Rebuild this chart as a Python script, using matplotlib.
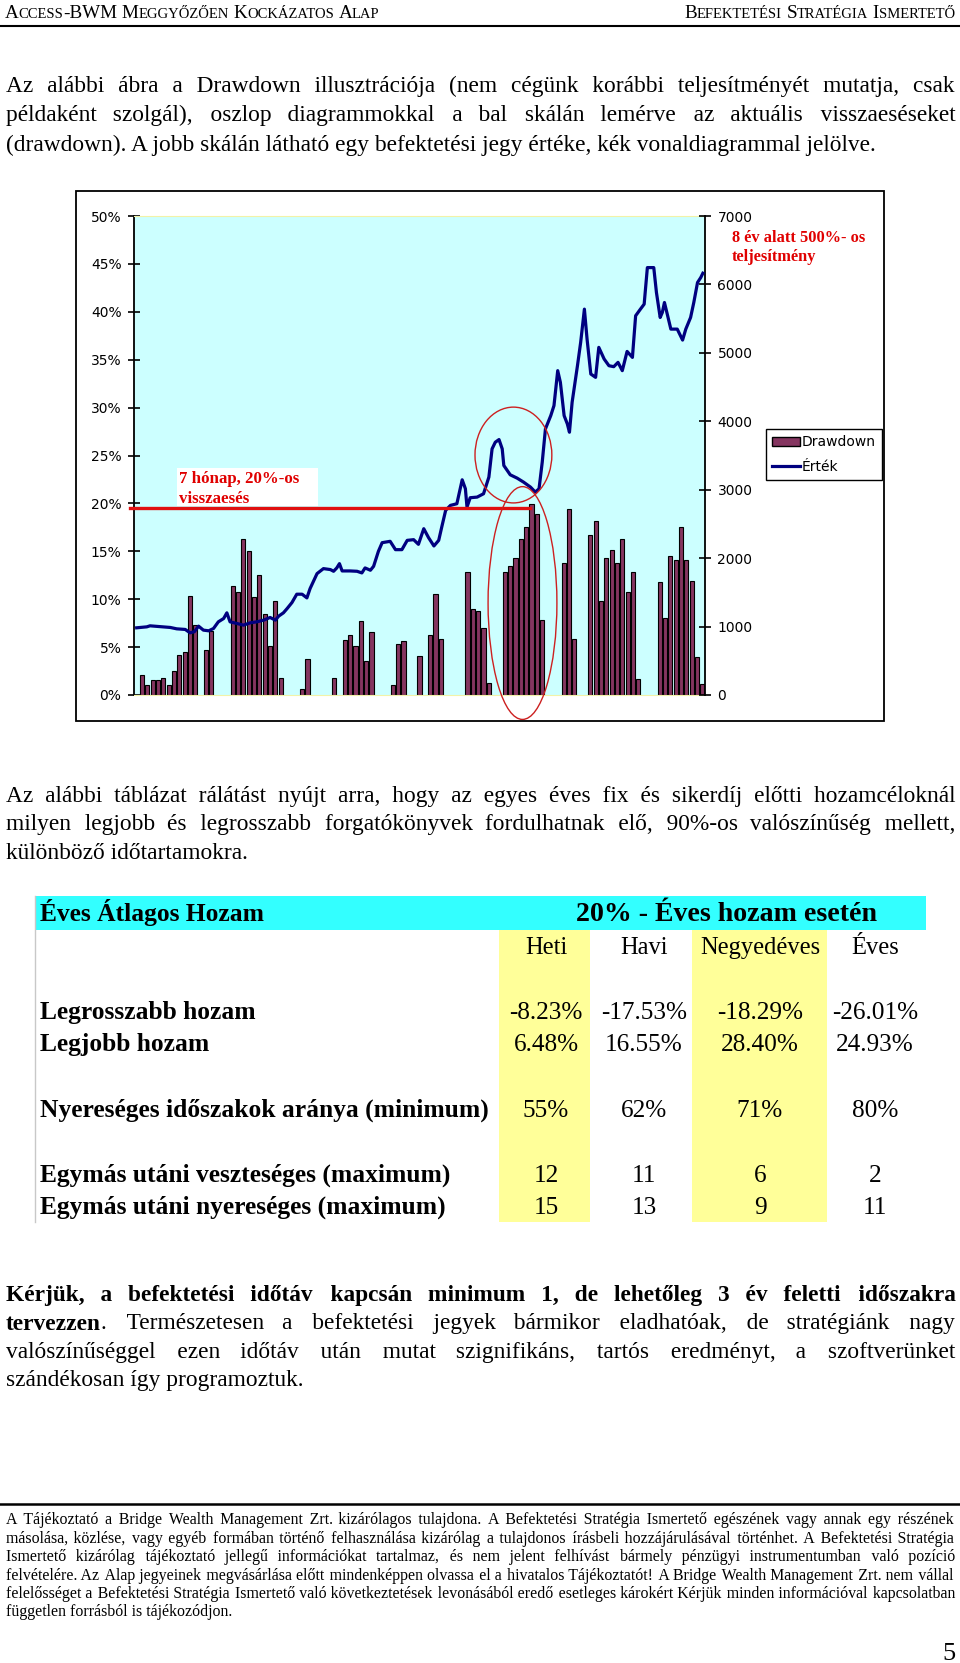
import matplotlib
matplotlib.use("Agg")
import matplotlib.pyplot as plt
import numpy as np
from itertools import groupby
from matplotlib.font_manager import FontProperties, findfont
from matplotlib.ft2font import FT2Font
from matplotlib.patches import Rectangle, Ellipse
from matplotlib.lines import Line2D

# ---------------- data ----------------
# monthly drawdown (%) per period, 0 = no drawdown
drawdown = [0, 2.05, 1.04, 1.6, 1.6, 1.8, 1.0, 2.5, 4.2, 4.5, 10.3, 7.3, 0, 4.7, 6.7,
            0, 0, 0, 11.4, 10.7, 16.3, 15.0, 10.2, 12.5, 8.45, 5.15, 9.8, 1.8,
            0, 0, 0, 0.6, 3.8, 0, 0, 0, 0, 1.8, 0, 5.7, 6.26, 5.1, 7.7, 3.55, 6.6,
            0, 0, 0, 1.04, 5.3, 5.6, 0, 0, 4.07, 0, 6.26, 10.5, 5.8,
            0, 0, 0, 0, 12.8, 9.0, 8.77, 7.0, 1.3, 0, 0,
            12.8, 13.5, 14.3, 16.3, 17.5, 19.9, 18.9, 7.8, 0, 0, 0,
            13.8, 19.4, 5.8, 0, 0, 16.7, 18.2, 9.8, 14.3, 15.1, 13.8, 16.3, 10.8, 12.8, 1.7,
            0, 0, 0, 11.8, 8.0, 14.5, 14.1, 17.5, 14.1, 11.9, 4.0, 1.2]

# unit value (right axis), sampled at period positions
line_t = [0, 1.9, 2.5, 6.3, 7.5, 9.1, 10.0, 10.8, 11.6, 12.5,
          13.5, 14.4, 15.3, 16.3, 16.9, 17.5, 18.8, 20.0, 21.3, 22.5,
          23.8, 25.0, 26.0, 26.6, 27.5, 28.2, 29.1, 30.0, 31.0, 31.9,
          32.5, 33.8, 35.0, 36.3, 36.9, 37.5, 38.0, 38.5, 40.0, 41.3,
          42.2, 42.8, 43.8, 44.4, 45.3, 46.0, 47.5, 48.5, 49.7, 50.7,
          51.9, 52.8, 53.8, 54.7, 55.7, 56.6, 57.2, 57.9, 58.8, 60.0,
          61.0, 61.6, 61.9, 62.5, 63.8, 65.0, 66.0, 66.6, 67.2, 67.9,
          68.5, 68.8, 70.0, 71.3, 72.5, 73.8, 74.7, 75.4, 76.0, 76.6,
          77.6, 78.2, 78.9, 79.4, 80.1, 80.7, 81.1, 81.6, 82.6, 83.2,
          83.9, 84.4, 85.1, 86.0, 86.6, 87.6, 88.5, 89.4, 90.2, 91.0,
          91.9, 92.9, 93.5, 94.4, 95.1, 95.7, 96.9, 97.4, 98.1, 98.5,
          98.9, 99.5, 100.1, 101.3, 102.3, 102.9, 103.8, 104.4, 105.1, 105.7,
          106.1]
line_v = [982, 996, 1011, 987, 967, 958, 909, 924, 1006, 948,
          938, 972, 1069, 1118, 1201, 1069, 1045, 1021, 1055, 1069,
          1094, 1133, 1094, 1152, 1201, 1264, 1351, 1473, 1473, 1419,
          1556, 1774, 1847, 1833, 1808, 1857, 1920, 1813, 1813, 1808,
          1784, 1857, 1823, 1881, 2100, 2226, 2246, 2124, 2124, 2260,
          2270, 2202, 2430, 2299, 2178, 2260, 2465, 2698, 2771, 2795,
          3145, 3014, 2746, 2883, 2892, 2941, 3184, 3597, 3694, 3733,
          3597, 3354, 3218, 3169, 3111, 3038, 2965, 3014, 3403, 3889,
          4083, 4229, 4740, 4569, 4083, 3962, 3840, 4278, 4812, 5153,
          5639, 5201, 4691, 4642, 5080, 4910, 4812, 4798, 4861, 4740,
          5021, 4934, 5542, 5639, 5712, 6246, 6246, 5882, 5517, 5590,
          5736, 5542, 5347, 5347, 5187, 5347, 5517, 5736, 6028, 6100,
          6164]

left_ticks = [0, 5, 10, 15, 20, 25, 30, 35, 40, 45, 50]
right_ticks = [0, 1000, 2000, 3000, 4000, 5000, 6000, 7000]
legend_labels = ["Drawdown", "Érték"]
drawdown_level = 19.5       # highlighted 20% drawdown level
drawdown_level_span = (-1.25, 73.8)

table_title = "Éves Átlagos Hozam"
table_subtitle = "20% - Éves hozam esetén"
table_cols = ["Heti", "Havi", "Negyedéves", "Éves"]
table_rows = ["Legrosszabb hozam", "Legjobb hozam",
              "Nyereséges időszakok aránya (minimum)",
              "Egymás utáni veszteséges (maximum)",
              "Egymás utáni nyereséges (maximum)"]
table_vals = [["-8.23%", "-17.53%", "-18.29%", "-26.01%"],
              ["6.48%", "16.55%", "28.40%", "24.93%"],
              ["55%", "62%", "71%", "80%"],
              ["12", "11", "6", "2"],
              ["15", "13", "9", "11"]]

header_left = "Access-BWM Meggyőzően Kockázatos Alap"
header_right = "Befektetési Stratégia Ismertető"
para1 = ["Az alábbi ábra a Drawdown illusztrációja (nem cégünk korábbi teljesítményét mutatja, csak",
         "példaként szolgál), oszlop diagrammokkal a bal skálán lemérve az aktuális visszaeséseket",
         "(drawdown). A jobb skálán látható egy befektetési jegy értéke, kék vonaldiagrammal jelölve."]
para2 = ["Az alábbi táblázat rálátást nyújt arra, hogy az egyes éves fix és sikerdíj előtti hozamcéloknál",
         "milyen legjobb és legrosszabb forgatókönyvek fordulhatnak elő, 90%-os valószínűség mellett,",
         "különböző időtartamokra."]
para3_bold = "Kérjük, a befektetési időtáv kapcsán minimum 1, de lehetőleg 3 év feletti időszakra"
para3_bold2 = "tervezzen"
para3 = [". Természetesen a befektetési jegyek bármikor eladhatóak, de stratégiánk nagy",
         "valószínűséggel ezen időtáv után mutat szignifikáns, tartós eredményt, a szoftverünket",
         "szándékosan így programoztuk."]
footer = ["A Tájékoztató a Bridge Wealth Management Zrt. kizárólagos tulajdona. A Befektetési Stratégia Ismertető egészének vagy annak egy részének",
          "másolása, közlése, vagy egyéb formában történő felhasználása kizárólag a tulajdonos írásbeli hozzájárulásával történhet. A Befektetési Stratégia",
          "Ismertető kizárólag tájékoztató jellegű információkat tartalmaz, és nem jelent felhívást bármely pénzügyi instrumentumban való pozíció",
          "felvételére. Az Alap jegyeinek megvásárlása előtt mindenképpen olvassa el a hivatalos Tájékoztatót! A Bridge Wealth Management Zrt. nem vállal",
          "felelősséget a Befektetési Stratégia Ismertető való következtetések levonásából eredő esetleges károkért Kérjük minden információval kapcsolatban",
          "független forrásból is tájékozódjon."]
page_number = "5"

# ---------------- page helpers ----------------
W, H = 960, 1663
fig = plt.figure(figsize=(W / 100, H / 100), dpi=100)
fig.patch.set_facecolor("white")
renderer = fig.canvas.get_renderer()
SERIF = "Liberation Serif"
HAIR = "\u200a"

# family list: a fallback that has the hair space glyph
hair_family = None
for fam in [SERIF, "DejaVu Serif", "DejaVu Sans"]:
    try:
        f = FT2Font(findfont(FontProperties(family=fam), fallback_to_default=False))
        if f.get_char_index(0x200A) != 0:
            hair_family = fam
            break
    except Exception:
        pass
FAMS = [SERIF] if hair_family in (None, SERIF) else [SERIF, hair_family]


def fx(x):
    return x / W


def fy(y):
    return 1 - y / H


def fp(size, weight="normal", family=None):
    return FontProperties(family=family if family else FAMS, size=size, weight=weight)


def tw(s, prop):
    w, h, d = renderer.get_text_width_height_descent(s, prop, ismath=False)
    return w


def fit(s, target, weight="normal", family=None):
    return 10.0 * target / tw(s, fp(10, weight, family))


def put(s, x, y, prop, ha="left", color="black", **kw):
    fig.text(fx(x), fy(y), s, fontproperties=prop, ha=ha, va="baseline", color=color, **kw)


def space_w(prop):
    return tw("n n", prop) - tw("nn", prop)


def hair_w(prop):
    return tw("n" + HAIR + "n", prop) - tw("nn", prop)


def natural(words, prop):
    return sum(tw(w, prop) for w in words) + space_w(prop) * (len(words) - 1)


def build_justified(words, target, prop):
    if hair_family is None or len(words) < 2:
        return " ".join(words)
    ws = [tw(w, prop) for w in words]
    sp, hw = space_w(prop), hair_w(prop)
    if hw <= 0.2:
        return " ".join(words)
    g = (target - sum(ws)) / (len(words) - 1)
    out, err = words[0], 0.0
    for w in words[1:]:
        need = g - sp + err
        k = max(0, int(round(need / hw)))
        err = need - k * hw
        out += " " + HAIR * k + w
    return out


def text_line(s, y, x0, x1, prop, justify=True, weight_prefix=None):
    x = x0
    if weight_prefix:
        bp = fp(prop.get_size(), "bold")
        put(weight_prefix, x, y, bp)
        x += tw(weight_prefix, bp)
    if justify:
        s = build_justified(s.split(" "), x1 - x, prop)
    put(s, x, y, prop)


def cap_size(lines, size, maxw, weight="normal"):
    for s in lines:
        nat = natural(s.split(" "), fp(size, weight))
        if nat > maxw:
            size *= maxw / nat
    return size


def smallcaps(text, x, y, big, small, align="left", draw=True):
    runs = []
    parts = text.split(" ")
    for wi, word in enumerate(parts):
        for low, grp in groupby(word, key=lambda c: c.islower()):
            s = "".join(grp).upper()
            runs.append((s, fp(small if low else big)))
        if wi < len(parts) - 1:
            runs.append((None, None))
    sp = space_w(fp(big)) * 0.9
    total = sum(tw(s, p) if s else sp for s, p in runs)
    if not draw:
        return total
    xx = x - total if align == "right" else x
    for s, p in runs:
        if s is None:
            xx += sp
            continue
        put(s, xx, y, p)
        xx += tw(s, p)
    return total

# ---------------- header ----------------
k = 372 / smallcaps(header_left, 0, 0, 10, 7.6, draw=False)
smallcaps(header_left, 5, 18, 10 * k, 7.6 * k)
smallcaps(header_right, 955, 18, 10 * k, 7.6 * k, align="right")
fig.add_artist(Line2D([0, 1], [fy(26), fy(26)], transform=fig.transFigure, color="black", lw=1.5))

# ---------------- body text ----------------
X0, X1 = 6, 955
body = np.mean([fit(para1[-1], 796), fit(para2[-1], 253), fit(para3[-1], 306)])
body = cap_size(para1[:-1] + para2[:-1] + para3[1:2], body, 946)
body = cap_size([para3_bold], body, 946, "bold")
BP = fp(body)

for i, (s, yb) in enumerate(zip(para1, [92, 121.5, 150.5])):
    text_line(s, yb, X0, X1, BP, justify=i < len(para1) - 1)
for i, (s, yb) in enumerate(zip(para2, [802, 830.5, 859])):
    text_line(s, yb, X0, X1, BP, justify=i < len(para2) - 1)
text_line(para3_bold, 1301, X0, X1, fp(body, "bold"))
text_line(para3[0], 1329.5, X0, X1, BP, weight_prefix=para3_bold2)
text_line(para3[1], 1358, X0, X1, BP)
text_line(para3[2], 1386, X0, X1, BP, justify=False)

# ---------------- footer ----------------
fig.add_artist(Line2D([0, 1], [fy(1504), fy(1504)], transform=fig.transFigure, color="black", lw=1.8))
fsize = fit(footer[-1], 230)
fsize = cap_size(footer[:-1], fsize, 946)
FP = fp(fsize)
for i, (s, yb) in enumerate(zip(footer, [1524, 1543, 1561, 1579.5, 1598.5, 1616.5])):
    text_line(s, yb, X0, X1, FP, justify=i < len(footer) - 1)
put(page_number, 955, 1660, fp(19), ha="right")

# ---------------- chart ----------------
fig.add_artist(Rectangle((fx(76), fy(721)), 808 / W, 530 / H, transform=fig.transFigure,
                         fill=False, edgecolor="black", lw=1.3, zorder=1))
ax = fig.add_axes([fx(134), fy(695), 571 / W, 479 / H])
ax.set_facecolor("#CCFFFF")
dd = np.array(drawdown)
idx = np.arange(len(dd))
m = dd > 0
BAR = "#853560"
ax.bar(idx[m], dd[m], width=0.78, color=BAR, edgecolor="black", linewidth=0.8, zorder=2)
ax.set_xlim(-0.5, len(dd) - 0.5)
ax.set_ylim(0, 50)
ax.set_yticks(left_ticks)
ax.set_yticklabels([f"{v}%" for v in left_ticks])
ax.set_xticks([])
ax.tick_params(axis="y", direction="inout", length=8, width=1.2, pad=5, labelsize=10)
for s in ["top", "bottom"]:
    ax.spines[s].set_color("#F2F2A8")
ax.spines["right"].set_visible(False)
ax.spines["left"].set_linewidth(1.3)

ax2 = ax.twinx()
ax2.plot(line_t, line_v, color="#000080", lw=2.3, solid_joinstyle="round", zorder=3)
ax2.set_ylim(0, 7000)
ax2.set_yticks(right_ticks)
ax2.set_yticklabels([str(v) for v in right_ticks])
ax2.tick_params(axis="y", direction="inout", length=8, width=1.2, pad=5, labelsize=10)
for s in ["top", "bottom", "left"]:
    ax2.spines[s].set_visible(False)
ax2.spines["right"].set_linewidth(1.3)

# highlight: 20% level, circles
ax2.plot(drawdown_level_span, [drawdown_level] * 2, transform=ax.transData, color="#E01010",
         lw=2.4, clip_on=False, zorder=6)
ax2.add_patch(Ellipse((70.6, 25.05), 14.4, 10.0, transform=ax.transData, fill=False,
                      edgecolor="#CC2020", lw=1.0, clip_on=False, zorder=7))
ax2.add_patch(Ellipse((72.3, 9.6), 12.9, 24.3, transform=ax.transData, fill=False,
                      edgecolor="#CC2020", lw=1.0, clip_on=False, zorder=7))

# annotation boxes
fig.add_artist(Rectangle((fx(177), fy(506)), 141 / W, 38 / H, transform=fig.transFigure,
                         facecolor="white", edgecolor="none", zorder=5))
RED = "#E00000"
ann = fp(12.2, "bold")
fig.text(fx(179), fy(483), "7 hónap, 20%-os", fontproperties=ann, color=RED, va="baseline", zorder=6)
fig.text(fx(179), fy(503), "visszaesés", fontproperties=ann, color=RED, va="baseline", zorder=6)
ann2 = fp(11.8, "bold")
put("8 év alatt 500%- os", 732, 242, ann2, color=RED)
put("teljesítmény", 732, 261, ann2, color=RED)

handles = [Rectangle((0, 0), 1, 1, facecolor=BAR, edgecolor="black", lw=1.0),
           Line2D([], [], color="#000080", lw=2.3)]
leg = fig.legend(handles, legend_labels, loc="upper left", bbox_to_anchor=(fx(766), fy(429)),
                 bbox_transform=fig.transFigure, frameon=True, fancybox=False, edgecolor="black",
                 framealpha=1, fontsize=10, handlelength=2.0, handletextpad=0.1, borderpad=0.45,
                 labelspacing=0.75, borderaxespad=0)
leg.get_frame().set_linewidth(1.0)

# ---------------- table ----------------
fig.add_artist(Rectangle((fx(35), fy(930)), 891 / W, 34 / H, transform=fig.transFigure,
                         facecolor="#33FFFF", edgecolor="none", zorder=0))
for xa, xb in [(499, 590), (692, 827)]:
    fig.add_artist(Rectangle((fx(xa), fy(1222)), (xb - xa) / W, 292 / H, transform=fig.transFigure,
                             facecolor="#FFFF99", edgecolor="none", zorder=0))
fig.add_artist(Line2D([fx(35), fx(35)], [fy(896), fy(1222)], transform=fig.transFigure,
                      color="#C8C8C8", lw=1.0))

title_size = fit(table_title, 225, "bold")
put(table_title, 40, 921, fp(title_size, "bold"))
put(table_subtitle, 727, 921, fp(fit(table_subtitle, 302, "bold"), "bold"), ha="center")
col_x = [546, 644, 760, 875]
col_size = fit("Negyedéves", 120)
for c, xc in zip(table_cols, col_x):
    put(c, xc, 954, fp(col_size), ha="center")
lab_size = fit(table_rows[2], 450, "bold")
val_size = fit("-17.53%", 86)
for r, vals, yb in zip(table_rows, table_vals, [1019, 1051, 1117, 1182, 1213.5]):
    put(r, 40, yb, fp(lab_size, "bold"))
    for v, xc in zip(vals, col_x):
        put(v, xc, yb, fp(val_size), ha="center")

fig.savefig("out.png", dpi=100)
